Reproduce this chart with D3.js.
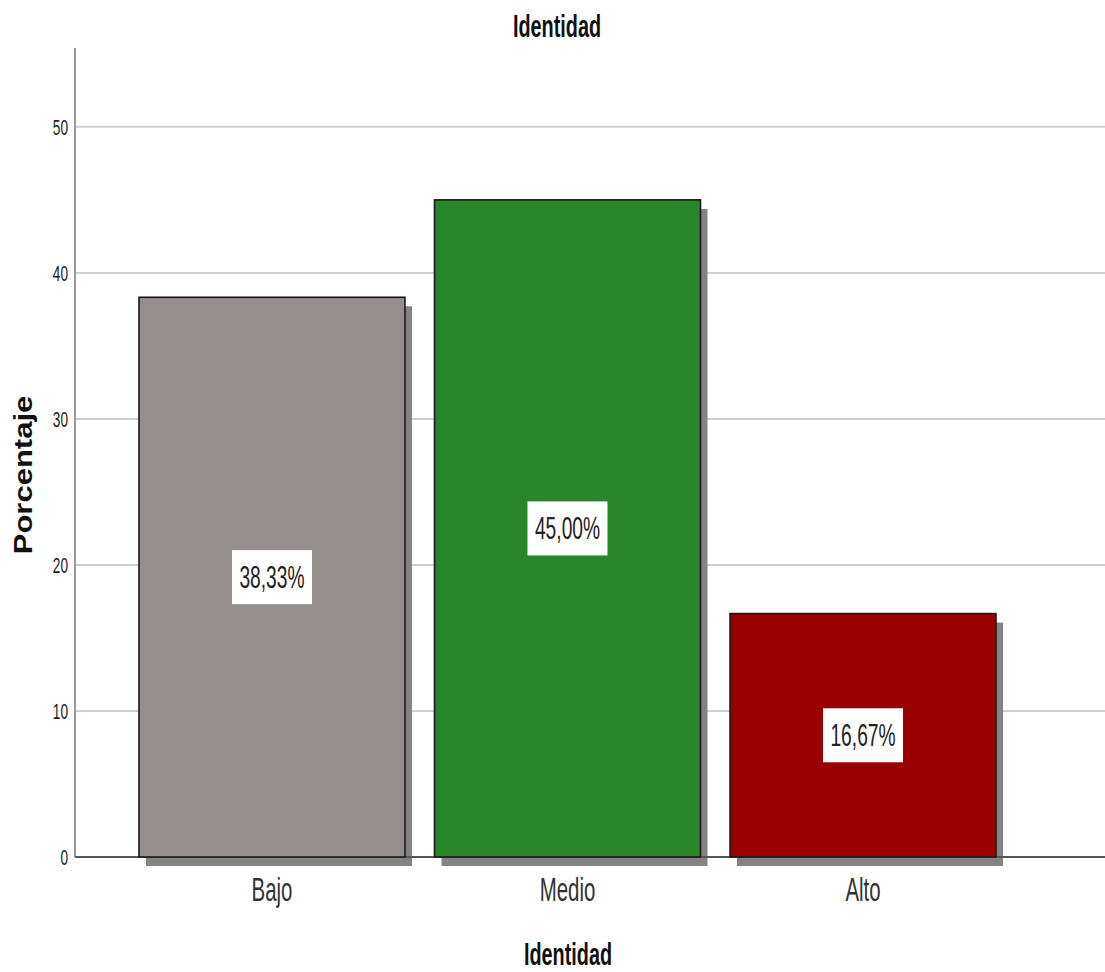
<!DOCTYPE html>
<html>
<head>
<meta charset="utf-8">
<script src="https://cdn.jsdelivr.net/npm/d3@7"></script>
<style>
  html, body { margin: 0; padding: 0; background: #fff; }
  svg { display: block; }
  text { font-family: "Liberation Sans", Arial, sans-serif; }
</style>
</head>
<body>
<svg id="chart" width="1105" height="972"></svg>
<script>
// Identidad: percentage per level
const categories = ["Bajo", "Medio", "Alto"];
const percentages = [38.33, 45.00, 16.67];
const barColors = ["#948f8d", "#2a862a", "#990000"];
const yTicks = [0, 10, 20, 30, 40, 50];

const svg = d3.select("#chart");
const W = 1105;
const SQ = 0.62; // horizontal squeeze for the condensed lettering

const x = d3.scaleBand()
  .domain(categories)
  .range([75, 1060])
  .paddingInner(0.1)
  .paddingOuter(0.2166);

const y = d3.scaleLinear()
  .domain([0, 55.4])
  .range([857, 48]);

// condensed text helper: places text at (px, py) and squeezes it horizontally
function condensed(sel, px, py) {
  return sel.attr("transform", `translate(${px},${py}) scale(${SQ},1)`);
}

// gridlines
svg.append("g")
  .selectAll("line")
  .data(yTicks.filter(d => d > 0))
  .join("line")
  .attr("x1", 75).attr("x2", W)
  .attr("y1", d => y(d)).attr("y2", d => y(d))
  .attr("stroke", "#cfcfcf")
  .attr("stroke-width", 2);

// y tick labels
svg.append("g")
  .selectAll("text")
  .data(yTicks)
  .join("text")
  .each(function (d) { condensed(d3.select(this), 68, y(d) + 8); })
  .attr("text-anchor", "end")
  .attr("font-size", 22)
  .attr("fill", "#222")
  .text(d => d);

// vertical axis rule
svg.append("line")
  .attr("x1", 75).attr("x2", 75)
  .attr("y1", y.range()[1]).attr("y2", y(0))
  .attr("stroke", "#999")
  .attr("stroke-width", 2);

// bar shadows
svg.append("g")
  .selectAll("rect")
  .data(categories)
  .join("rect")
  .attr("x", d => x(d) + 7)
  .attr("y", (d, i) => y(percentages[i]) + 9)
  .attr("width", x.bandwidth())
  .attr("height", (d, i) => y(0) - y(percentages[i]))
  .attr("fill", "#838383");

// baseline
svg.append("line")
  .attr("x1", 75).attr("x2", W)
  .attr("y1", y(0)).attr("y2", y(0))
  .attr("stroke", "#555")
  .attr("stroke-width", 2);

// bars
svg.append("g")
  .selectAll("rect")
  .data(categories)
  .join("rect")
  .attr("x", d => x(d))
  .attr("y", (d, i) => y(percentages[i]))
  .attr("width", x.bandwidth())
  .attr("height", (d, i) => y(0) - y(percentages[i]))
  .attr("fill", (d, i) => barColors[i])
  .attr("stroke", "#1a1a1a")
  .attr("stroke-width", 1.6);

// value labels in white boxes
const fmt = v => v.toFixed(2).replace(".", ",") + "%";
const lbl = svg.append("g")
  .selectAll("g")
  .data(categories)
  .join("g")
  .attr("transform", (d, i) => `translate(${x(d) + x.bandwidth() / 2},${(y(percentages[i]) + y(0)) / 2})`);
lbl.append("rect")
  .attr("x", -40).attr("y", -27)
  .attr("width", 80).attr("height", 54)
  .attr("fill", "#fff");
lbl.append("text")
  .each(function () { condensed(d3.select(this), 0, 11); })
  .attr("text-anchor", "middle")
  .attr("font-size", 31)
  .attr("fill", "#222")
  .text((d, i) => fmt(percentages[i]));

// category labels
svg.append("g")
  .selectAll("text")
  .data(categories)
  .join("text")
  .each(function (d) { condensed(d3.select(this), x(d) + x.bandwidth() / 2, 901); })
  .attr("text-anchor", "middle")
  .attr("font-size", 33)
  .attr("fill", "#333")
  .text(d => d);

// titles
svg.append("text")
  .call(condensed, 557, 37)
  .attr("text-anchor", "middle")
  .attr("font-size", 32)
  .attr("font-weight", "bold")
  .attr("fill", "#111")
  .text("Identidad");

svg.append("text")
  .call(condensed, 568, 965)
  .attr("text-anchor", "middle")
  .attr("font-size", 32)
  .attr("font-weight", "bold")
  .attr("fill", "#111")
  .text("Identidad");

svg.append("text")
  .attr("transform", "translate(32,475) scale(0.86,1) rotate(-90)")
  .attr("text-anchor", "middle")
  .attr("font-size", 31)
  .attr("font-weight", "bold")
  .attr("fill", "#111")
  .text("Porcentaje");
</script>
</body>
</html>
